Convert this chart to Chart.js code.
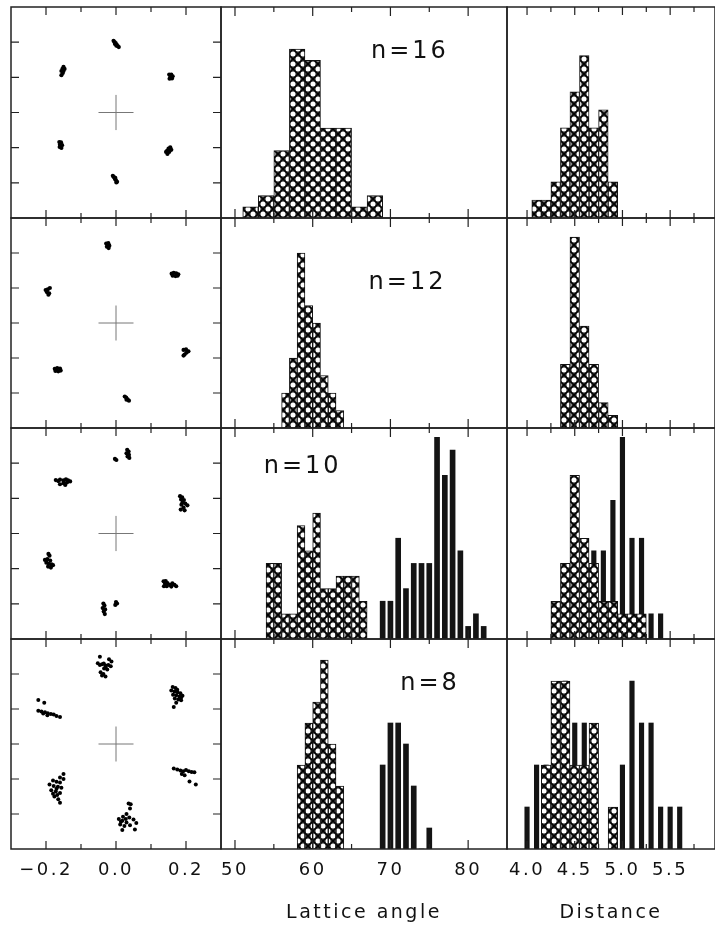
<!DOCTYPE html>
<html>
<head>
<meta charset="utf-8">
<script src="https://cdn.jsdelivr.net/npm/chart.js@4.4.0/dist/chart.umd.min.js"></script>
<style>
  body { margin: 0; background: #fff; width: 715px; height: 927px; position: relative; overflow: hidden; }
  .p { position: absolute; }
</style>
</head>
<body>
<script>
// ---- scatter clouds (x, y) for n = 16, 12, 10, 8 ----
const cloud16 = [
  [-0.007,0.204],[-0.004,0.200],[-0.001,0.197],[0.002,0.193],[0.005,0.189],[0.008,0.186],[0.001,0.190],[-0.003,0.195],
  [-0.150,0.130],[-0.153,0.124],[-0.156,0.118],[-0.152,0.112],[-0.156,0.106],[-0.150,0.118],[-0.147,0.124],
  [0.152,0.108],[0.158,0.108],[0.162,0.103],[0.155,0.101],[0.160,0.097],[0.153,0.096],
  [-0.162,-0.084],[-0.157,-0.085],[-0.160,-0.091],[-0.154,-0.093],[-0.161,-0.098],[-0.156,-0.101],
  [0.155,-0.099],[0.150,-0.103],[0.158,-0.106],[0.146,-0.109],[0.152,-0.112],[0.147,-0.118],[0.143,-0.112],
  [-0.009,-0.180],[-0.006,-0.184],[-0.003,-0.189],[0.000,-0.193],[0.003,-0.197],[-0.002,-0.186],[0.001,-0.199]
];
const cloud12 = [
  [-0.028,0.227],[-0.022,0.228],[-0.019,0.221],[-0.026,0.218],[-0.021,0.214],
  [0.159,0.141],[0.165,0.143],[0.172,0.142],[0.178,0.139],[0.162,0.135],[0.170,0.134],[0.176,0.135],
  [-0.201,0.094],[-0.195,0.096],[-0.189,0.100],[-0.197,0.088],[-0.191,0.085],[-0.193,0.081],
  [0.193,-0.077],[0.200,-0.075],[0.207,-0.081],[0.201,-0.085],[0.196,-0.090],[0.193,-0.093],
  [-0.175,-0.131],[-0.168,-0.129],[-0.160,-0.130],[-0.173,-0.137],[-0.165,-0.138],[-0.158,-0.136],
  [0.025,-0.210],[0.029,-0.213],[0.033,-0.218],[0.037,-0.222],[0.030,-0.219]
];
const cloud10 = [
  [0.032,0.238],[0.036,0.233],[0.030,0.228],[0.037,0.224],[0.033,0.219],[0.038,0.215],[0.001,0.209],[-0.003,0.212],
  [-0.172,0.152],[-0.165,0.149],[-0.160,0.153],[-0.150,0.151],[-0.143,0.154],[-0.137,0.151],[-0.131,0.148],[-0.140,0.145],[-0.150,0.143],[-0.160,0.140],[-0.145,0.138],
  [0.183,0.106],[0.189,0.103],[0.186,0.097],[0.194,0.095],[0.190,0.088],[0.198,0.085],[0.204,0.080],[0.187,0.082],[0.193,0.074],[0.185,0.068],[0.196,0.066],
  [-0.193,-0.058],[-0.190,-0.063],[-0.203,-0.075],[-0.196,-0.073],[-0.188,-0.077],[-0.199,-0.083],[-0.192,-0.086],[-0.184,-0.088],[-0.194,-0.094],[-0.186,-0.097],[-0.180,-0.090],
  [0.136,-0.136],[0.142,-0.135],[0.140,-0.143],[0.147,-0.141],[0.137,-0.150],[0.145,-0.150],[0.154,-0.146],[0.161,-0.142],[0.167,-0.146],[0.172,-0.150],[0.158,-0.151],
  [-0.036,-0.199],[-0.033,-0.205],[-0.038,-0.212],[-0.031,-0.216],[-0.035,-0.222],[-0.032,-0.229],[0.000,-0.195],[0.003,-0.199],[-0.002,-0.203]
];
const cloud8 = [
  [-0.046,0.249],[-0.020,0.242],[-0.013,0.236],[-0.052,0.231],[-0.046,0.226],[-0.040,0.228],[-0.030,0.224],[-0.035,0.230],[-0.022,0.226],[-0.015,0.222],
  [-0.034,0.216],[-0.025,0.213],[-0.030,0.219],[-0.044,0.205],[-0.040,0.196],[-0.030,0.193],[-0.036,0.200],
  [0.162,0.163],[0.170,0.160],[0.158,0.153],[0.167,0.150],[0.176,0.148],[0.184,0.145],[0.163,0.141],[0.172,0.139],[0.181,0.136],[0.190,0.138],
  [0.168,0.130],[0.178,0.127],[0.186,0.125],[0.172,0.118],[0.165,0.106],[0.175,0.155],[0.186,0.132],
  [-0.222,0.126],[-0.205,0.118],[-0.222,0.095],[-0.213,0.093],[-0.203,0.091],[-0.195,0.088],[-0.186,0.086],[-0.178,0.084],[-0.170,0.080],[-0.160,0.077],[-0.196,0.082],[-0.208,0.087],
  [0.165,-0.070],[0.175,-0.073],[0.184,-0.076],[0.192,-0.078],[0.200,-0.074],[0.208,-0.078],[0.216,-0.080],[0.224,-0.081],[0.188,-0.086],[0.196,-0.089],[0.210,-0.107],[0.228,-0.116],
  [-0.150,-0.086],[-0.160,-0.096],[-0.150,-0.100],[-0.180,-0.104],[-0.170,-0.108],[-0.160,-0.110],[-0.190,-0.116],[-0.178,-0.120],[-0.166,-0.122],[-0.156,-0.125],
  [-0.185,-0.132],[-0.172,-0.136],[-0.160,-0.140],[-0.176,-0.150],[-0.165,-0.158],[-0.160,-0.168],[-0.170,-0.128],[-0.180,-0.142],[-0.168,-0.146],
  [0.036,-0.170],[0.042,-0.172],[0.040,-0.184],[0.030,-0.200],[0.020,-0.208],[0.008,-0.214],[0.018,-0.219],[0.028,-0.214],[0.038,-0.210],[0.050,-0.216],
  [0.058,-0.226],[0.012,-0.230],[0.024,-0.234],[0.040,-0.232],[0.054,-0.244],[0.018,-0.246],[0.030,-0.224],[0.014,-0.222]
];

// ---- lattice angle histograms (bin centre, count) ----
const angleBins16 = [52, 54, 56, 58, 60, 62, 64, 66, 68];
const angleCounts16 = [1, 2, 6, 15, 14, 8, 8, 1, 2];
const angleBins12 = [56.5, 57.5, 58.5, 59.5, 60.5, 61.5, 62.5, 63.5];
const angleCounts12 = [2, 4, 10, 7, 6, 3, 2, 1];
const angleBins10a = [54.5, 55.5, 56.5, 57.5, 58.5, 59.5, 60.5, 61.5, 62.5, 63.5, 64.5, 65.5, 66.5];
const angleCounts10a = [6, 6, 2, 2, 9, 7, 10, 4, 4, 5, 5, 5, 3];
const angleBins10b = [69, 70, 71, 72, 73, 74, 75, 76, 77, 78, 79, 80, 81, 82];
const angleCounts10b = [3, 3, 8, 4, 6, 6, 6, 16, 13, 15, 7, 1, 2, 1];
const angleBins8a = [58.5, 59.5, 60.5, 61.5, 62.5, 63.5];
const angleCounts8a = [4, 6, 7, 9, 5, 3];
const angleBins8b = [69, 70, 71, 72, 73, 74, 75];
const angleCounts8b = [4, 6, 6, 5, 3, 0, 1];

// ---- distance histograms ----
const distBins16 = [4.1, 4.2, 4.3, 4.4, 4.5, 4.6, 4.7, 4.8, 4.9];
const distCounts16 = [1, 1, 2, 5, 7, 9, 5, 6, 2];
const distBins12 = [4.4, 4.5, 4.6, 4.7, 4.8, 4.9];
const distCounts12 = [5, 15, 8, 5, 2, 1];
const distBins10a = [4.3, 4.4, 4.5, 4.6, 4.7, 4.8, 4.9, 5.0, 5.1, 5.2];
const distCounts10a = [3, 6, 13, 8, 6, 3, 3, 2, 2, 2];
const distBins10b = [4.7, 4.8, 4.9, 5.0, 5.1, 5.2, 5.3, 5.4];
const distCounts10b = [7, 7, 11, 16, 8, 8, 2, 2];
const distBins8a = [4.2, 4.3, 4.4, 4.5, 4.6, 4.7, 4.9];
const distCounts8a = [4, 8, 8, 4, 4, 6, 2];
const distBins8b = [4.0, 4.1, 4.2, 4.3, 4.4, 4.5, 4.6, 4.7, 5.0, 5.1, 5.2, 5.3, 5.4, 5.5, 5.6];
const distCounts8b = [2, 4, 4, 4, 8, 6, 6, 4, 4, 8, 6, 6, 2, 2, 2];

const posLabels = [-0.2, 0.0, 0.2];
const angleLabels = [50, 60, 70, 80];
const distLabels = [4.0, 4.5, 5.0, 5.5];
const nLabels = ['n=16', 'n=12', 'n=10', 'n=8'];

// ---- layout ----
const colLeft = [11, 221, 507], colWidth = [210, 286, 208];
const rowTop = [7, 218, 428, 639], rowHeight = [211, 210, 211, 210];
const PAD = 3, AXIS_H = 78;
const FONT = 'DejaVu Sans';
const INK = '#111';

// cross-hatch with open circles, like the printed fill
function makePattern() {
  const s = 10;
  const c = document.createElement('canvas');
  c.width = s; c.height = s;
  const g = c.getContext('2d');
  g.fillStyle = '#2a2a2a';
  g.fillRect(0, 0, s, s);
  g.fillStyle = '#fff';
  [[s / 2, 0], [0, s / 2], [s, s / 2], [s / 2, s]].forEach(([cx, cy]) => {
    g.beginPath(); g.arc(cx, cy, 2.5, 0, Math.PI * 2); g.fill();
  });
  g.strokeStyle = '#000';
  g.lineWidth = 1.1;
  g.beginPath();
  g.moveTo(0, 0); g.lineTo(s, s);
  g.moveTo(s, 0); g.lineTo(0, s);
  g.stroke();
  return g.createPattern(c, 'repeat');
}
const hatch = makePattern();

const frame = {
  id: 'frame',
  beforeDraw(chart) { chart.ctx.letterSpacing = '2.5px'; },
  afterDatasetsDraw(chart, args, opts) {
    const { ctx, chartArea: a, scales: { x, y } } = chart;
    ctx.save();
    ctx.strokeStyle = '#222';
    ctx.lineWidth = 1.5;
    ctx.strokeRect(a.left, a.top, a.width, a.height);
    ctx.lineWidth = 1.2;
    ctx.beginPath();
    (opts.xTicks || []).forEach(([v, len]) => {
      const px = x.getPixelForValue(v);
      ctx.moveTo(px, a.top); ctx.lineTo(px, a.top + len);
      ctx.moveTo(px, a.bottom); ctx.lineTo(px, a.bottom - len);
    });
    (opts.yTicks || []).forEach(([v, len]) => {
      const py = y.getPixelForValue(v);
      ctx.moveTo(a.left, py); ctx.lineTo(a.left + len, py);
      ctx.moveTo(a.right, py); ctx.lineTo(a.right - len, py);
    });
    ctx.stroke();
    if (opts.label) {
      ctx.font = '24px "' + FONT + '"';
      ctx.letterSpacing = '3px';
      ctx.fillStyle = INK;
      ctx.textAlign = 'center';
      ctx.textBaseline = 'middle';
      ctx.fillText(opts.label, x.getPixelForValue(opts.labelAt[0]), y.getPixelForValue(opts.labelAt[1]));
    }
    ctx.restore();
  }
};

function makeCanvas(r, c) {
  const last = r === 3;
  const w = colWidth[c] + 2 * PAD;
  const h = rowHeight[r] + PAD + (last ? AXIS_H : PAD);
  const div = document.createElement('div');
  div.className = 'p';
  div.style.left = (colLeft[c] - PAD) + 'px';
  div.style.top = (rowTop[r] - PAD) + 'px';
  const cv = document.createElement('canvas');
  cv.width = w; cv.height = h;
  div.appendChild(cv);
  document.body.appendChild(div);
  return cv;
}

function xScale(r, min, max, labels, fmt, title) {
  const last = r === 3;
  return {
    type: 'linear', min, max, offset: false,
    display: last,
    grid: { display: false, drawTicks: false },
    border: { display: false },
    afterBuildTicks: s => { s.ticks = labels.map(v => ({ value: v })); },
    afterFit: s => { s.height = last ? AXIS_H : 0; s.paddingLeft = 0; s.paddingRight = 0; },
    ticks: { autoSkip: false, maxRotation: 0, padding: 11, color: INK, font: { family: FONT, size: 18 }, callback: fmt },
    title: { display: !!title, text: title, color: INK, font: { family: FONT, size: 19 }, padding: { top: 0, bottom: 3 } }
  };
}

function baseOptions(r, x, ymin, ymax, frameOpts) {
  return {
    responsive: false, animation: false, devicePixelRatio: 1,
    layout: { autoPadding: false, padding: { left: PAD, right: PAD, top: PAD, bottom: r === 3 ? 0 : PAD } },
    plugins: { legend: { display: false }, tooltip: { enabled: false }, frame: frameOpts },
    scales: { x, y: { type: 'linear', min: ymin, max: ymax, display: false } }
  };
}

// ---- left column: positions ----
const clouds = [cloud16, cloud12, cloud10, cloud8];
const posFmt = v => (v < 0 ? '\u2212' : '') + Math.abs(v).toFixed(1);
clouds.forEach((cl, r) => {
  const cv = makeCanvas(r, 0);
  const cross = { type: 'line', borderColor: '#777', borderWidth: 1, pointRadius: 0 };
  new Chart(cv, {
    type: 'scatter',
    data: {
      datasets: [
        { data: cl.map(([x, y]) => ({ x, y })), pointRadius: r === 3 ? 2 : 2.1, backgroundColor: '#000', borderWidth: 0 },
        Object.assign({ data: [{ x: -0.05, y: 0 }, { x: 0.05, y: 0 }] }, cross),
        Object.assign({ data: [{ x: 0, y: -0.05 }, { x: 0, y: 0.05 }] }, cross)
      ]
    },
    options: baseOptions(r, xScale(r, -0.3, 0.3, posLabels, posFmt), -0.3, 0.3, {
      xTicks: [[-0.2, 8], [-0.1, 5], [0, 8], [0.1, 5], [0.2, 8]],
      yTicks: [[-0.2, 8], [-0.1, 8], [0, 8], [0.1, 8], [0.2, 8]]
    }),
    plugins: [frame]
  });
});

// ---- histogram panels ----
function barSet(bins, counts, style, thickness) {
  const solid = style === 'stripe';
  return {
    data: bins.map((b, i) => ({ x: b, y: counts[i] })),
    backgroundColor: solid ? '#141414' : hatch,
    borderColor: '#111',
    borderWidth: solid ? 0 : 1,
    barThickness: thickness,
    grouped: false
  };
}

function histPanel(r, c, xmin, xmax, ymax, sets, labels, fmt, title, frameOpts) {
  const cv = makeCanvas(r, c);
  const pxPerUnit = colWidth[c] / (xmax - xmin);
  const datasets = sets.map(([bins, counts, style, bin]) =>
    barSet(bins, counts, style, style === 'stripe' ? bin : bin * pxPerUnit));
  new Chart(cv, {
    type: 'bar',
    data: { datasets },
    options: baseOptions(r, xScale(r, xmin, xmax, labels, fmt, title), 0, ymax, frameOpts),
    plugins: [frame]
  });
}

const angleTicks = [[50, 9], [55, 5], [60, 9], [65, 5], [70, 9], [75, 5], [80, 9]];
const distTicks = [[4.0, 8], [4.25, 5], [4.5, 8], [4.75, 5], [5.0, 8], [5.25, 5], [5.5, 8], [5.75, 5]];
const angleFmt = v => String(v);
const distFmt = v => v.toFixed(1);

const angleSets = [
  [[angleBins16, angleCounts16, 'hatch', 2]],
  [[angleBins12, angleCounts12, 'hatch', 1]],
  [[angleBins10a, angleCounts10a, 'hatch', 1], [angleBins10b, angleCounts10b, 'stripe', 5]],
  [[angleBins8a, angleCounts8a, 'hatch', 1], [angleBins8b, angleCounts8b, 'stripe', 5]]
];
const angleYMax = [18.75, 12, 16.75, 10];
const labelAt = [[72.5, 14.8], [72.2, 8.3], [58.7, 13.65], [75.1, 7.86]];

angleSets.forEach((sets, r) => {
  histPanel(r, 1, 48.2, 85, angleYMax[r], sets, angleLabels, angleFmt, 'Lattice angle',
    { xTicks: angleTicks, label: nLabels[r], labelAt: labelAt[r] });
});

const distSets = [
  [[distBins16, distCounts16, 'hatch', 0.1]],
  [[distBins12, distCounts12, 'hatch', 0.1]],
  [[distBins10a, distCounts10a, 'hatch', 0.1], [distBins10b, distCounts10b, 'stripe', 4.5]],
  [[distBins8a, distCounts8a, 'hatch', 0.1], [distBins8b, distCounts8b, 'stripe', 4.5]]
];
const distYMax = [11.7, 16.5, 16.75, 10];

distSets.forEach((sets, r) => {
  histPanel(r, 2, 3.79, 5.97, distYMax[r], sets, distLabels, distFmt, 'Distance',
    { xTicks: distTicks });
});
</script>
</body>
</html>
